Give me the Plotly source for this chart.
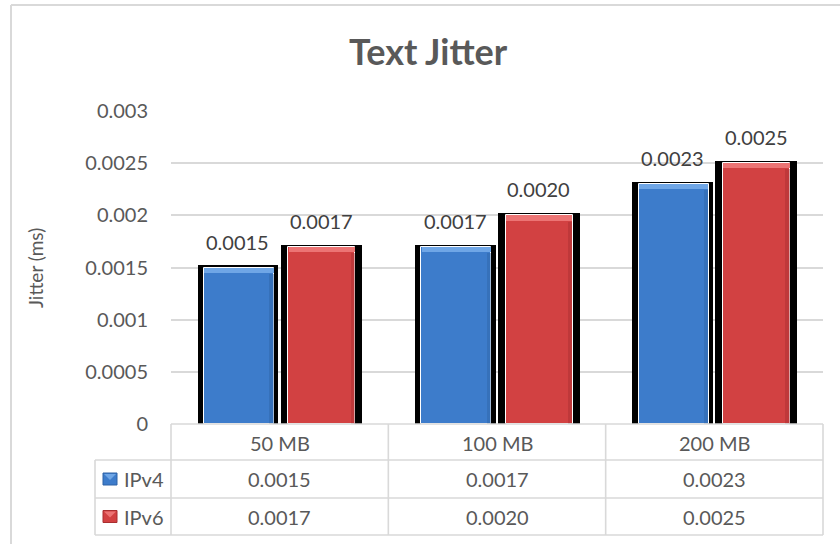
import plotly.graph_objects as go

# ---- data ----
categories = ["50 MB", "100 MB", "200 MB"]
series_names = ["IPv4", "IPv6"]
ipv4 = [0.0015, 0.0017, 0.0023]
ipv6 = [0.0017, 0.0020, 0.0025]
y_tickvals = [0, 0.0005, 0.001, 0.0015, 0.002, 0.0025, 0.003]
y_ticktext = ["0", "0.0005", "0.001", "0.0015", "0.002", "0.0025", "0.003"]
title_text = "Text Jitter"
y_title = "Jitter (ms)"

W, H = 840, 544
FONT = "Lato"
GRAY = "#595959"
LINE = "#d9d9d9"

def px(x):
    return x / W

def py(y):
    return 1 - y / H

x_left, x_right = 171, 823
y_zero, y_top = 424, 111

series = [
    dict(name="IPv4", vals=ipv4, main="#3d7ccb", hi="#6fa6e6", dark="#2e63a6",
         sh_off=-0.378, sh_w=0.372, off=-0.348, w=0.322),
    dict(name="IPv6", vals=ipv6, main="#d24142", hi="#ec7474", dark="#a92f30",
         sh_off=0.004, sh_w=0.376, off=0.040, w=0.308),
]

idx = list(range(len(categories)))
fig = go.Figure()

for s in series:
    n = len(s["vals"])
    # black shadow (slightly taller than the bar)
    fig.add_trace(go.Bar(
        x=idx, y=[v + 0.00002 for v in s["vals"]], width=[s["sh_w"]] * n, offset=[s["sh_off"]] * n,
        marker=dict(color="#000000", line=dict(width=0)),
        showlegend=False, hoverinfo="skip"))
    # main coloured bar
    fig.add_trace(go.Bar(
        x=idx, y=s["vals"], width=[s["w"]] * n, offset=[s["off"]] * n,
        marker=dict(color=s["main"], line=dict(color="#ffffff", width=1)),
        name=s["name"], showlegend=False))
    # darker right edge
    fig.add_trace(go.Bar(
        x=idx, y=[v - 0.00006 for v in s["vals"]], width=[0.02] * n,
        offset=[s["off"] + s["w"] - 0.022] * n,
        marker=dict(color=s["dark"], opacity=0.45, line=dict(width=0)),
        showlegend=False, hoverinfo="skip"))
    # lighter top bevel
    fig.add_trace(go.Bar(
        x=idx, y=[0.00005] * n, base=[v - 0.00005 for v in s["vals"]],
        width=[s["w"] - 0.004] * n, offset=[s["off"] + 0.002] * n,
        marker=dict(color=s["hi"], line=dict(width=0)),
        showlegend=False, hoverinfo="skip"))

annotations = []
# data labels above bars
for s in series:
    for i, v in zip(idx, s["vals"]):
        annotations.append(dict(
            x=i + s["sh_off"] + s["sh_w"] / 2, y=v, xref="x", yref="y",
            text=f"{v:.4f}", showarrow=False, yanchor="middle", yshift=26,
            font=dict(family=FONT, size=20, color="#404040")))

# title
annotations.append(dict(
    x=px(428), y=py(51), xref="paper", yref="paper", text=f"<b>{title_text}</b>",
    showarrow=False, xanchor="center", yanchor="middle",
    font=dict(family=FONT, size=36, color=GRAY)))
# y-axis title
annotations.append(dict(
    x=px(35), y=py(268), xref="paper", yref="paper", text=y_title, textangle=-90,
    showarrow=False, xanchor="center", yanchor="middle",
    font=dict(family=FONT, size=19, color=GRAY)))

# data table
col_edges = [x_left + (x_right - x_left) * k / len(categories) for k in range(len(categories) + 1)]
row_edges = [y_zero, 460, 498, 535]
leg_left = 95

shapes = []
line_style = dict(color=LINE, width=1.6)
# chart frame (left/top)
shapes.append(dict(type="line", xref="paper", yref="paper", x0=px(11), x1=px(11), y0=py(5), y1=0, line=dict(color=LINE, width=2)))
shapes.append(dict(type="line", xref="paper", yref="paper", x0=px(11), x1=1, y0=py(5), y1=py(5), line=dict(color=LINE, width=2)))
# horizontal table lines
for k, ry in enumerate(row_edges):
    xl = x_left if k == 0 else leg_left
    shapes.append(dict(type="line", xref="paper", yref="paper", x0=px(xl), x1=px(x_right), y0=py(ry), y1=py(ry), line=line_style))
# vertical table lines
for cx in col_edges:
    shapes.append(dict(type="line", xref="paper", yref="paper", x0=px(cx), x1=px(cx), y0=py(row_edges[0]), y1=py(row_edges[-1]), line=line_style))
shapes.append(dict(type="line", xref="paper", yref="paper", x0=px(leg_left), x1=px(leg_left), y0=py(row_edges[1]), y1=py(row_edges[-1]), line=line_style))

# header row text
for k, c in enumerate(categories):
    cx = (col_edges[k] + col_edges[k + 1]) / 2
    annotations.append(dict(x=px(cx), y=py((row_edges[0] + row_edges[1]) / 2 + 1), xref="paper", yref="paper",
                            text=c, showarrow=False, xanchor="center", yanchor="middle",
                            font=dict(family=FONT, size=20, color=GRAY)))
# value rows
for r, s in enumerate(series):
    ry = (row_edges[r + 1] + row_edges[r + 2]) / 2
    for k, v in enumerate(s["vals"]):
        cx = (col_edges[k] + col_edges[k + 1]) / 2
        annotations.append(dict(x=px(cx), y=py(ry), xref="paper", yref="paper",
                                text=f"{v:.4f}", showarrow=False, xanchor="center", yanchor="middle",
                                font=dict(family=FONT, size=20, color=GRAY)))
    # legend key
    shapes.append(dict(type="rect", xref="paper", yref="paper", x0=px(103), x1=px(117),
                       y0=py(ry + 6), y1=py(ry - 6), fillcolor=s["main"], line=dict(color=s["dark"], width=1)))
    shapes.append(dict(type="path", xref="paper", yref="paper",
                       path=f"M {px(104)},{py(ry-5)} L {px(116)},{py(ry-5)} L {px(110)},{py(ry+1)} Z",
                       fillcolor=s["hi"], line=dict(width=0)))
    annotations.append(dict(x=px(122), y=py(ry), xref="paper", yref="paper",
                            text=series_names[r], showarrow=False, xanchor="left", yanchor="middle",
                            font=dict(family=FONT, size=20, color=GRAY)))

fig.update_layout(
    width=W, height=H, margin=dict(l=0, r=0, t=0, b=0, autoexpand=False),
    paper_bgcolor="white", plot_bgcolor="white",
    barmode="overlay", bargap=0,
    xaxis=dict(domain=[px(x_left), px(x_right)], range=[-0.5, len(categories) - 0.5],
               showticklabels=False, showgrid=False, zeroline=False, showline=False, ticks="",
               automargin=False),
    yaxis=dict(domain=[py(y_zero), py(y_top)], range=[0, 0.003],
               tickvals=y_tickvals, ticktext=y_ticktext,
               showgrid=True, gridcolor=LINE, gridwidth=1.6, zeroline=False, showline=False,
               ticks="", ticklabelstandoff=22, automargin=False,
               tickfont=dict(family=FONT, size=20, color=GRAY)),
    annotations=annotations, shapes=shapes, showlegend=False,
)

fig.write_html("out.html")
